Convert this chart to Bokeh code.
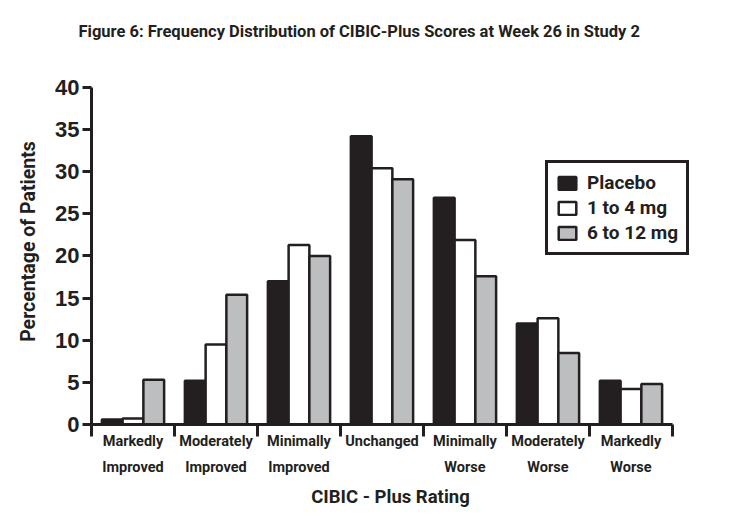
from bokeh.plotting import figure
from bokeh.models import Range1d, FixedTicker
from bokeh.embed import file_html
from bokeh.resources import INLINE

categories = ["Markedly\nImproved", "Moderately\nImproved", "Minimally\nImproved", "Unchanged",
              "Minimally\nWorse", "Moderately\nWorse", "Markedly\nWorse"]
placebo = [0.6, 5.2, 17.0, 34.2, 26.9, 12.0, 5.2]
dose_1_4 = [0.7, 9.5, 21.3, 30.4, 21.9, 12.6, 4.2]
dose_6_12 = [5.3, 15.4, 20.0, 29.1, 17.6, 8.5, 4.8]
series_names = ["Placebo", "1 to 4 mg", "6 to 12 mg"]
y_ticks = [0, 5, 10, 15, 20, 25, 30, 35, 40]

NARROW = "Roboto, 'DejaVu Sans Condensed', sans-serif"
WIDE = "'Liberation Sans', Arial, sans-serif"
INK = "#231f20"
GREY = "#bcbec0"

n = len(categories)
centers = [i + 0.5 for i in range(n)]
bw = 0.25

# frame spans page y 58..424; axis value 40 sits at y=87 (8.425 px per unit)
p = figure(width=725, height=527, output_backend="svg", toolbar_location=None,
           x_range=Range1d(0, 7.205), y_range=Range1d(0, 43.44),
           min_border_left=91, min_border_right=36, min_border_top=58, min_border_bottom=103)

p.title.text = "Figure 6: Frequency Distribution of CIBIC-Plus Scores at Week 26 in Study 2"
p.title.text_font = NARROW
p.title.text_font_size = "16.5px"
p.title.text_font_style = "bold"
p.title.text_color = INK
p.title.offset = -13
p.title.standoff = 36

fills = [INK, "white", GREY]
data = [placebo, dose_1_4, dose_6_12]
offsets = [-bw, 0, bw]
for name, vals, fc, off in zip(series_names, data, fills, offsets):
    xs = [c + off for c in centers]
    p.vbar(x=xs, top=vals, bottom=0, width=bw, fill_color=fc, line_color=INK,
           line_width=2.5, legend_label=name)

p.xgrid.visible = False
p.ygrid.visible = False
p.outline_line_color = None

xa = p.xaxis[0]
xa.ticker = FixedTicker(ticks=centers, minor_ticks=list(range(n + 1)))
xa.major_label_overrides = {c: lab for c, lab in zip(centers, categories)}
xa.bounds = (0, n)
xa.axis_line_width = 3
xa.axis_line_color = INK
xa.major_tick_out = 0
xa.major_tick_in = 0
xa.minor_tick_out = 12
xa.minor_tick_in = 0
xa.minor_tick_line_width = 3
xa.minor_tick_line_color = INK
xa.major_label_standoff = -4
xa.major_label_text_font = NARROW
xa.major_label_text_font_size = "14.5px"
xa.major_label_text_font_style = "bold"
xa.major_label_text_color = INK
xa.major_label_text_line_height = 1.55
xa.axis_label = "CIBIC - Plus Rating"
xa.axis_label_text_font = NARROW
xa.axis_label_text_font_size = "18.5px"
xa.axis_label_text_font_style = "bold"
xa.axis_label_text_color = INK
xa.axis_label_standoff = 7

ya = p.yaxis[0]
ya.ticker = FixedTicker(ticks=y_ticks, minor_ticks=[])
ya.bounds = (0, 40)
ya.axis_line_width = 3
ya.axis_line_color = INK
ya.major_tick_out = 9
ya.major_tick_in = 0
ya.major_tick_line_width = 3
ya.major_tick_line_color = INK
ya.minor_tick_out = 0
ya.major_label_standoff = 3
ya.major_label_text_font = WIDE
ya.major_label_text_font_size = "22px"
ya.major_label_text_font_style = "bold"
ya.major_label_text_color = INK
ya.axis_label = "Percentage of Patients"
ya.axis_label_text_font = NARROW
ya.axis_label_text_font_size = "19.5px"
ya.axis_label_text_font_style = "bold"
ya.axis_label_text_color = INK
ya.axis_label_standoff = 12

lg = p.legend[0]
lg.location = (454, 169)
lg.border_line_color = INK
lg.border_line_width = 3
lg.border_line_alpha = 1
lg.background_fill_color = "white"
lg.background_fill_alpha = 1
lg.glyph_width = 22
lg.glyph_height = 16
lg.label_height = 18
lg.spacing = 2
lg.padding = 8
lg.margin = 0
lg.label_standoff = 9
lg.label_text_font = NARROW
lg.label_text_font_size = "19px"
lg.label_text_font_style = "bold"
lg.label_text_color = INK

open("out.html", "w").write(file_html(p, INLINE))
